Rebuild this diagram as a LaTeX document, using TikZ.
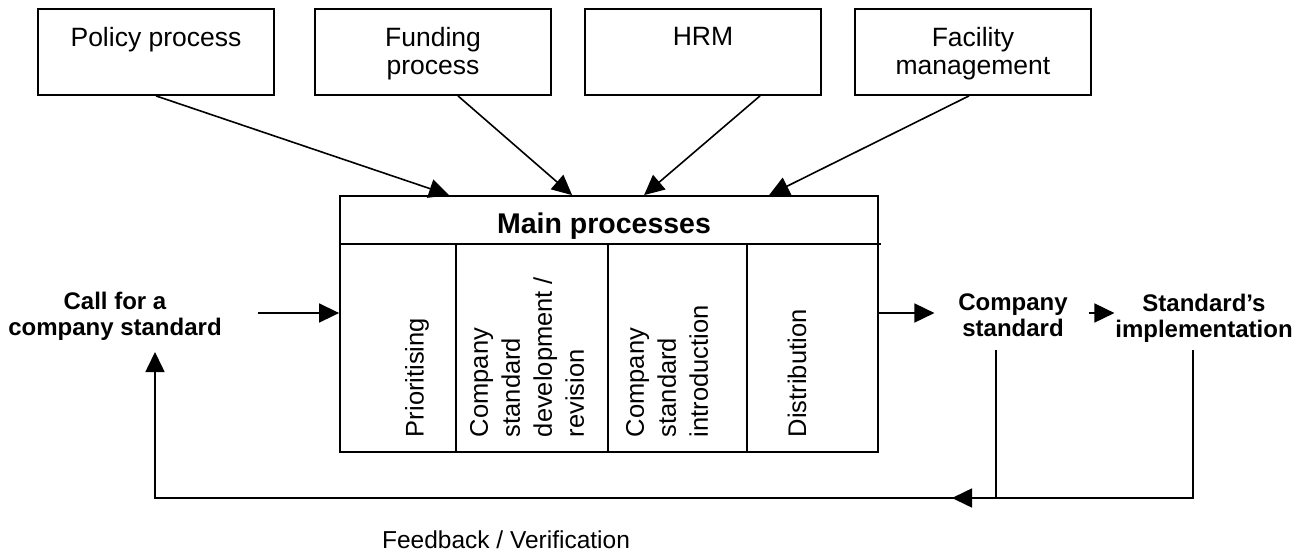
\documentclass[tikz,border=0pt]{standalone}
\usepackage{fontspec}
\setmainfont{Liberation Sans}
\usetikzlibrary{arrows.meta,calc}
\begin{document}
\begin{tikzpicture}[x=1pt,y=-1pt,
  line width=1.8pt,
  box/.style={draw,line width=1.8pt,rectangle,inner sep=0pt},
  lbl/.style={inner sep=0pt,align=center,anchor=north,font=\fontsize{26.5}{28}\selectfont},
  blbl/.style={inner sep=0pt,align=center,anchor=north,font=\fontsize{24}{26}\selectfont\bfseries},
  vlbl/.style={inner sep=0pt,align=left,rotate=90,anchor=west,font=\fontsize{25.5}{32}\selectfont},
  arr/.style={-{Triangle[length=20pt,width=19pt]},line width=1.6pt}]
\useasboundingbox (0,0) rectangle (1302,555);

% top boxes
\node[box,minimum width=236pt,minimum height=86pt] (pol) at (156,52) {};
\node[box,minimum width=236pt,minimum height=86pt] (fund) at (433,52) {};
\node[box,minimum width=236pt,minimum height=86pt] (hrm) at (703,52) {};
\node[box,minimum width=236pt,minimum height=86pt] (fac) at (973,52) {};
\node[lbl] (polt) at (156,26) {Policy process};
\node[lbl] (fundt) at (433,26) {Funding\\process};
\node[lbl] (hrmt) at (703,26) {HRM};
\node[lbl] (fact) at (973,26) {Facility\\management};

% main box
\node[box,minimum width=538pt,minimum height=256pt] (main) at (609,324) {};
\draw ($(main.north west)+(0,49)$) -- ($(main.north east)+(2,49)$);
\draw ($(main.north west)+(117,49)$) -- ($(main.south west)+(117,0)$);
\draw ($(main.north west)+(269,49)$) -- ($(main.south west)+(269,0)$);
\draw ($(main.north west)+(408,49)$) -- ($(main.south west)+(408,0)$);
\node[inner sep=0pt,anchor=north,font=\fontsize{28.5}{32}\selectfont\bfseries] (mpt) at (604,212) {Main processes};
\node[vlbl] (c1) at (417,438) {Prioritising};
\node[vlbl] (c2) at (527,438) {Company\\standard\\development /\\revision};
\node[vlbl] (c3) at (667,438) {Company\\standard\\introduction};
\node[vlbl] (c4) at (797,438) {Distribution};

% top arrows
\draw[arr] (pol.south) -- ($(main.north west)+(110,0)$);
\draw[arr] ([xshift=25pt]fund.south) -- ($(main.north west)+(233,0)$);
\draw[arr] ([xshift=57pt]hrm.south) -- ($(main.north west)+(305,0)$);
\draw[arr] ([xshift=-4pt]fac.south) -- ($(main.north west)+(430,0)$);

% side texts
\node[blbl] (call) at (115,291) {Call for a\\company standard};
\node[blbl] (cs) at (1013,293) {Company\\standard};
\node[blbl] (si) at (1204,293) {Standard's\\implementation};

\coordinate (inL) at (258,313);
\draw[arr] (inL) -- (main.west |- inL);
\draw[arr] (main.east |- inL) -- ([xshift=-23pt]cs.west |- inL);
\draw[arr] ([xshift=20pt]cs.east |- inL) -- (si.west |- inL);

% feedback loop
\coordinate (fbA) at (996,350);
\coordinate (fbB) at (1193,350);
\coordinate (fbC) at (155,498);
\coordinate (fbT) at (155,352);
\coordinate (fbM) at (952,498);
\draw[arr] (fbB) |- (fbC) -- (fbT);
\draw (fbA) -- (fbA |- fbC);
\draw[arr] (fbA |- fbC) -- (fbM);

\node[inner sep=0pt,font=\fontsize{24.5}{28}\selectfont] (fbt) at (506,540) {Feedback / Verification};
\end{tikzpicture}
\end{document}
